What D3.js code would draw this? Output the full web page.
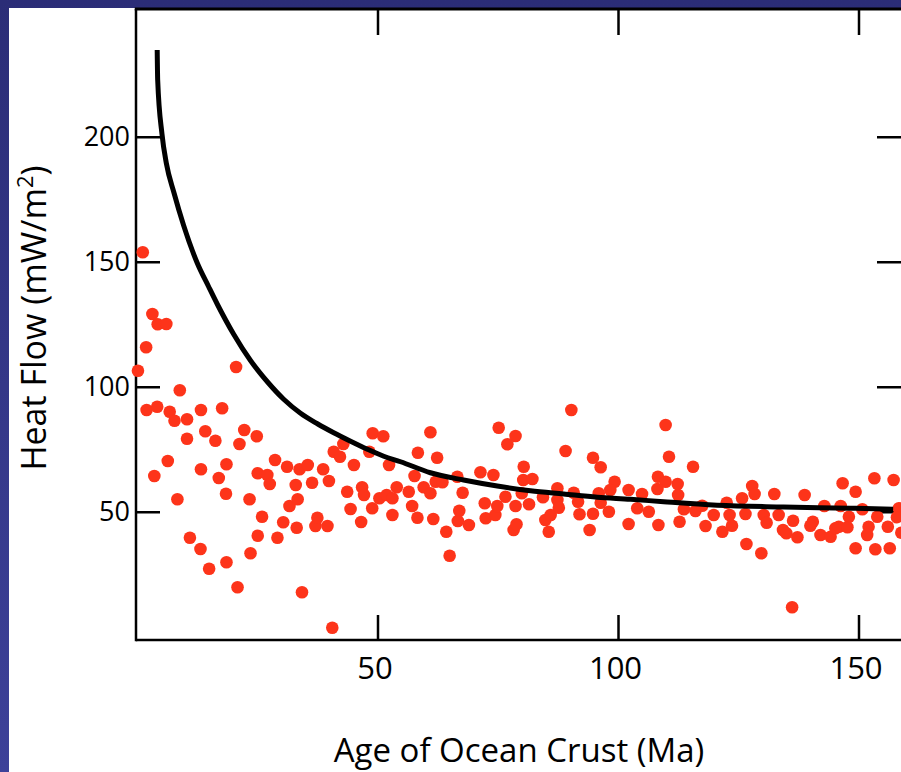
<!DOCTYPE html>
<html>
<head>
<meta charset="utf-8">
<script src="https://cdn.jsdelivr.net/npm/d3@7/dist/d3.min.js"></script>
<style>
  html, body { margin: 0; padding: 0; }
  body { width: 901px; height: 772px; overflow: hidden;
         background: linear-gradient(to bottom, #2b2d77, #3d4199); }
  svg { display: block; }
  text { font-family: "Open Sans", "DejaVu Sans", sans-serif; fill: #000; }
</style>
</head>
<body>
<div id="chart"></div>
<script>
// Age of ocean crust (Ma) for each heat flow measurement
const ages = [
  1.2, 3.2, 4.3, 6.1, 1.9, 0.2, 20.6, 8.9, 2.0, 4.2, 6.8, 7.8, 10.4, 13.3, 17.7, 10.4, 14.2, 16.3, 22.3, 21.3,
  24.9, 6.4, 3.6, 13.3, 18.6, 17.0, 28.7, 31.2, 33.8, 35.5, 38.7, 40.9, 42.2, 42.9, 45.1, 48.3, 49.0, 51.2, 52.4, 25.1,
  27.1, 27.6, 8.4, 18.5, 23.4, 33.0, 36.4, 39.9, 43.7, 46.8, 47.2, 54.0, 50.4, 51.9, 53.1, 48.9, 53.1, 44.4, 46.6, 31.7,
  33.4, 26.0, 30.4, 33.2, 37.1, 37.5, 39.6, 25.1, 29.2, 11.0, 13.2, 15.0, 18.6, 23.6, 20.9, 34.3, 40.6,
  56.5, 57.2, 58.3, 57.7, 58.4, 61.0, 62.4, 59.6, 61.0, 62.1, 63.5, 61.6, 64.3, 65.0, 66.6, 67.7, 67.0, 66.7, 69.0, 71.4,
  74.1, 72.3, 75.2, 78.7, 77.0, 72.5, 74.5, 74.9, 76.6, 78.7, 78.3, 78.9, 80.4, 80.3, 82.2, 80.0, 81.5, 84.4, 84.9, 86.0,
  85.6, 87.4, 87.4, 87.7, 89.1, 90.3, 90.8, 91.7, 92.0, 94.1, 94.8, 96.4, 94.8, 96.0, 96.4, 98.1, 99.3, 98.4, 102.2, 102.2,
  104.0, 105.0, 106.4, 108.3, 109.9, 108.2, 108.4, 109.9, 110.6, 112.4, 112.5, 112.8,
  115.6, 113.7, 116.1, 117.5, 118.2, 119.9, 121.7, 122.6, 123.2, 123.7, 125.8, 126.5, 126.7, 127.9, 128.4, 129.8, 130.3, 130.9,
  132.5, 133.4, 134.3, 135.0, 136.4, 137.3, 136.2, 138.8, 140.5, 140.0, 142.1, 144.2, 142.9, 145.2, 145.9, 146.3, 146.7, 148.0,
  147.7, 149.4, 149.4, 150.8, 152.1, 151.8, 153.3, 153.5, 153.9, 156.1, 156.5, 157.3, 158.4, 158.0, 158.9
];
// Measured heat flow (mW/m2), same order as ages
const heatFlow = [
  153.8, 129.1, 125.0, 125.1, 115.8, 106.4, 107.9, 98.6, 90.7, 92.0, 90.0, 86.4, 87.0, 90.7, 91.4, 79.2, 82.2, 78.4, 82.7, 77.1,
  80.2, 70.3, 64.3, 67.0, 69.0, 63.5, 70.7, 68.0, 67.0, 68.7, 67.0, 74.0, 72.0, 77.1, 68.7, 74.0, 81.4, 80.2, 68.7, 65.4,
  64.7, 61.1, 55.0, 57.2, 55.0, 60.7, 61.6, 62.3, 58.0, 59.8, 56.7, 59.8, 55.4, 56.7, 55.4, 51.4, 48.7, 51.1, 45.9, 52.3,
  55.0, 48.0, 45.8, 43.6, 44.3, 47.6, 44.3, 40.4, 39.6, 39.6, 35.1, 27.2, 29.8, 33.4, 19.8, 17.8, 3.6,
  58.0, 52.3, 47.6, 64.3, 73.6, 81.8, 71.6, 59.8, 57.4, 62.0, 61.8, 47.1, 42.0, 32.4, 64.0, 57.6, 50.4, 46.3, 44.7, 65.8,
  64.7, 53.4, 83.6, 80.3, 77.0, 47.4, 48.7, 52.3, 56.0, 52.3, 42.7, 45.0, 68.0, 62.7, 63.1, 57.4, 53.0, 55.8, 46.7, 48.7,
  42.0, 59.4, 54.7, 51.6, 74.3, 90.7, 57.6, 54.0, 49.0, 42.7, 71.6, 67.8, 49.2, 57.4, 53.6, 50.0, 62.0, 58.7, 45.1, 58.7,
  51.4, 57.1, 50.0, 64.0, 62.0, 59.1, 44.7, 84.7, 72.0, 61.1, 56.7, 46.0,
  68.0, 51.0, 50.3, 52.4, 44.3, 48.7, 42.0, 53.6, 48.7, 44.4, 55.4, 49.1, 37.1, 60.3, 57.1, 33.4, 48.7, 45.6,
  57.1, 48.7, 42.7, 41.4, 46.4, 39.8, 11.8, 56.7, 46.0, 44.4, 40.7, 40.0, 52.3, 43.4, 44.0, 52.3, 61.4, 48.0,
  43.8, 58.0, 35.4, 51.0, 44.0, 40.7, 63.4, 35.0, 48.0, 44.0, 35.4, 62.7, 51.4, 47.8, 41.6
];
// Model cooling curve
const curveAge = [4.2, 4.3, 5.2, 6.1, 7.7, 9.7, 12.5, 14.9, 16.7, 20.1, 23.6, 27.1, 30.5, 34.0, 37.5, 40.9, 44.4, 47.9, 51.3, 54.8,
  61.0, 67.9, 74.9, 81.8, 88.7, 95.7, 102.6, 109.5, 120.6, 134.4, 148.3, 157.2];
const curveFlow = [234.7, 222.7, 201.0, 189.4, 177.5, 164.5, 149.6, 140.0, 133.0, 121.0, 110.5, 102.0, 95.0, 89.4, 85.2, 81.6, 78.2, 75.0, 72.2, 70.0,
  65.6, 62.7, 60.3, 58.4, 57.1, 55.8, 55.0, 54.0, 52.6, 51.9, 51.4, 51.0];

const xTicks = [50, 100, 150];
const yTicks = [50, 100, 150, 200];

const width = 901, height = 772;
const plotLeft = 136, plotBottom = 640, plotTop = 10;

const svg = d3.select('#chart').append('svg')
    .attr('width', width)
    .attr('height', height);

// white panel over the blue frame
svg.append('rect')
    .attr('x', 9).attr('y', 8)
    .attr('width', width - 9).attr('height', height - 8)
    .attr('fill', '#fff');

const x = d3.scaleLinear().domain([0, 160]).range([137, 137 + 160 * 4.81]);
const y = d3.scaleLinear().domain([0, 250]).range([636.75, 636.75 - 250 * 2.5]);

// axes
const xAxis = svg.append('g')
    .attr('transform', `translate(0,${plotBottom})`)
    .call(d3.axisBottom(x).tickValues(xTicks).tickSizeInner(-25).tickSizeOuter(0).tickPadding(17));
const xTop = svg.append('g')
    .attr('transform', `translate(0,${plotTop})`)
    .call(d3.axisTop(x).tickValues(xTicks).tickSizeInner(-25).tickSizeOuter(0).tickFormat(''));
const yAxis = svg.append('g')
    .attr('transform', `translate(${plotLeft},0)`)
    .call(d3.axisLeft(y).tickValues(yTicks).tickSizeInner(-24).tickSizeOuter(0).tickPadding(6));
const yRight = svg.append('g')
    .attr('transform', `translate(${width},0)`)
    .call(d3.axisRight(y).tickValues(yTicks).tickSizeInner(-24).tickSizeOuter(0).tickFormat(''));

[xAxis, xTop, yAxis, yRight].forEach(g => {
  g.selectAll('.domain').remove();
  g.selectAll('line').attr('stroke', '#000').attr('stroke-width', 2.5);
  g.selectAll('text').attr('font-family', '"Open Sans", sans-serif');
});
xAxis.selectAll('text').attr('font-size', 31).attr('dx', -3);
yAxis.selectAll('text').attr('font-size', 27);

// frame lines
svg.append('line').attr('x1', plotLeft).attr('x2', width).attr('y1', plotBottom).attr('y2', plotBottom)
    .attr('stroke', '#000').attr('stroke-width', 2.5);
svg.append('line').attr('x1', plotLeft).attr('x2', plotLeft).attr('y1', plotTop - 1).attr('y2', plotBottom + 1.25)
    .attr('stroke', '#000').attr('stroke-width', 2.5);
svg.append('line').attr('x1', plotLeft - 1.25).attr('x2', width).attr('y1', plotTop - 1).attr('y2', plotTop - 1)
    .attr('stroke', '#000').attr('stroke-width', 3);

// data points
const points = ages.map((a, i) => ({ age: a, flow: heatFlow[i] }));
svg.append('g').selectAll('circle')
    .data(points)
    .enter()
    .append('circle')
    .attr('cx', d => x(d.age))
    .attr('cy', d => y(d.flow))
    .attr('r', 6.3)
    .attr('fill', '#fd341a');

// model curve
const line = d3.line()
    .x(d => x(d[0]))
    .y(d => y(d[1]))
    .curve(d3.curveMonotoneX);
svg.append('path')
    .datum(curveAge.map((a, i) => [a, curveFlow[i]]))
    .attr('d', line)
    .attr('fill', 'none')
    .attr('stroke', '#000')
    .attr('stroke-width', 5);

// axis titles
svg.append('text')
    .attr('x', 519).attr('y', 762)
    .attr('text-anchor', 'middle')
    .attr('font-size', 33)
    .text('Age of Ocean Crust (Ma)');

const yTitle = svg.append('text')
    .attr('transform', 'translate(46,318) rotate(-90)')
    .attr('text-anchor', 'middle')
    .attr('font-size', 34);
yTitle.append('tspan').text('Heat Flow (mW/m');
yTitle.append('tspan').attr('dy', -13).attr('font-size', 22).text('2');
yTitle.append('tspan').attr('dy', 13).text(')');
</script>
</body>
</html>
